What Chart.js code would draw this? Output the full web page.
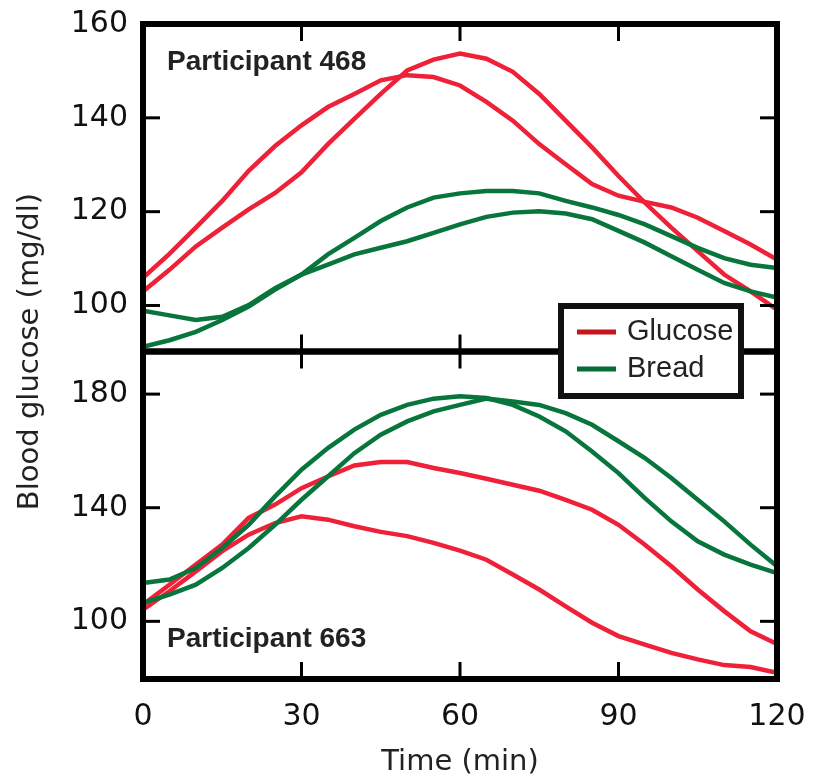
<!DOCTYPE html>
<html>
<head>
<meta charset="utf-8">
<script src="https://cdn.jsdelivr.net/npm/chart.js@4/dist/chart.umd.min.js"></script>
<style>
  html, body { margin: 0; padding: 0; background: #fff; }
  #wrap { width: 815px; height: 782px; position: relative; }
</style>
</head>
<body>
<div id="wrap"><canvas id="chart" width="815" height="782"></canvas></div>
<script>
// ── Data ───────────────────────────────────────────────────────────────────
const times = [0, 5, 10, 15, 20, 25, 30, 35, 40, 45, 50, 55, 60,
               65, 70, 75, 80, 85, 90, 95, 100, 105, 110, 115, 120];

// Participant 468
const p468Glucose1 = [103.0, 107.6, 112.6, 116.6, 120.5, 124.0, 128.4, 134.4, 139.8, 145.1, 150.1, 152.4, 153.7,
                      152.6, 149.8, 145.1, 139.4, 133.7, 127.6, 121.9, 116.6, 111.6, 106.6, 103.0, 99.1];
const p468Glucose2 = [105.9, 111.0, 116.6, 122.3, 128.7, 134.0, 138.4, 142.3, 145.1, 148.0, 149.1, 148.7, 146.9,
                      143.4, 139.4, 134.4, 130.1, 125.9, 123.4, 122.1, 120.9, 118.7, 115.9, 113.0, 109.8];
const p468Bread1   = [98.9, 97.9, 96.9, 97.6, 100.1, 103.7, 106.6, 108.7, 110.9, 112.3, 113.7, 115.5, 117.3,
                      118.9, 119.8, 120.1, 119.6, 118.4, 115.9, 113.4, 110.5, 107.6, 104.8, 103.0, 101.7];
const p468Bread2   = [91.2, 92.6, 94.4, 96.9, 99.8, 103.4, 106.6, 110.9, 114.4, 118.0, 120.9, 123.0, 123.9,
                      124.4, 124.4, 123.9, 122.3, 120.9, 119.3, 117.3, 114.8, 112.3, 110.1, 108.7, 108.0];

// Participant 663
const p663Glucose1 = [105.9, 112.9, 120.0, 127.0, 136.4, 141.1, 146.9, 151.0, 154.9, 156.1, 156.1, 154.0, 152.2,
                      150.2, 148.1, 146.0, 142.8, 139.3, 134.0, 127.0, 119.4, 111.2, 103.6, 96.5, 92.0];
const p663Glucose2 = [104.1, 110.6, 117.6, 124.7, 130.5, 134.6, 137.0, 135.8, 133.5, 131.5, 130.0, 127.6, 124.9,
                      121.7, 116.5, 111.2, 105.3, 99.5, 94.8, 91.8, 88.9, 86.6, 84.6, 83.9, 81.9];
const p663Bread1   = [113.5, 114.7, 118.8, 125.8, 134.0, 144.0, 153.4, 161.0, 167.5, 172.7, 176.2, 178.4, 179.2,
                      178.6, 176.2, 172.1, 166.9, 159.8, 152.2, 143.4, 135.2, 128.2, 123.5, 120.0, 117.0];
const p663Bread2   = [106.5, 109.4, 112.9, 118.8, 125.8, 134.0, 142.8, 151.0, 159.2, 165.7, 170.4, 173.9, 176.2,
                      178.4, 177.4, 176.2, 173.3, 169.2, 163.4, 157.5, 150.5, 142.8, 135.2, 127.0, 119.4];

const xTicks      = [0, 30, 60, 90, 120];
const topTicks    = [100, 120, 140, 160];
const bottomTicks = [100, 140, 180];
const panelLabels = ['Participant 468', 'Participant 663'];
const legendLabels = ['Glucose', 'Bread'];

// ── Styles ─────────────────────────────────────────────────────────────────
const RED   = '#ef2139';
const GREEN = '#08763c';
const LEGEND_RED   = '#c4161c';
const LEGEND_GREEN = '#066b35';
const TICK_FONT = { family: 'DejaVu Sans', size: 30 };

function series(values, color, axis) {
  return {
    data: times.map((t, i) => ({ x: t, y: values[i] })),
    borderColor: color,
    backgroundColor: color,
    borderWidth: 4.5,
    pointRadius: 0,
    tension: 0,
    yAxisID: axis,
  };
}

// Frame, inward ticks, panel labels, legend and axis titles
const decorPlugin = {
  id: 'decor',
  afterDatasetsDraw(chart) {
    const ctx = chart.ctx;
    const { left, right } = chart.chartArea;
    const xs = chart.scales.x;
    const TICK = 17;

    const line = (x1, y1, x2, y2) => {
      ctx.beginPath(); ctx.moveTo(x1, y1); ctx.lineTo(x2, y2); ctx.stroke();
    };

    ctx.save();
    ctx.lineCap = 'butt';

    ['yTop', 'yBot'].forEach((id, k) => {
      const s = chart.scales[id];
      ctx.strokeStyle = '#000';
      ctx.lineWidth = 3;
      s.ticks.forEach(t => {
        const py = s.getPixelForValue(t.value);
        line(left, py, left + TICK, py);
        line(right, py, right - TICK, py);
      });
      xs.ticks.forEach(t => {
        const px = xs.getPixelForValue(t.value);
        line(px, s.top, px, s.top + TICK);
        line(px, s.bottom, px, s.bottom - TICK);
      });
      ctx.lineWidth = 6;
      ctx.strokeRect(left, s.top, right - left, s.bottom - s.top);

      // panel label
      ctx.fillStyle = '#222';
      ctx.font = 'bold 28px "Liberation Sans", Arial, sans-serif';
      ctx.textAlign = 'left';
      ctx.textBaseline = 'middle';
      const ly = k === 0 ? s.top + 38 : s.bottom - 40;
      ctx.fillText(panelLabels[k], left + 24, ly);
    });

    // legend box
    const bx = 561, by = 306, bw = 180, bh = 90;
    ctx.fillStyle = '#fff';
    ctx.fillRect(bx, by, bw, bh);
    ctx.lineWidth = 6;
    ctx.strokeStyle = '#111';
    ctx.strokeRect(bx, by, bw, bh);
    [LEGEND_RED, LEGEND_GREEN].forEach((c, i) => {
      const yy = by + 26 + i * 37;
      ctx.strokeStyle = c;
      ctx.lineWidth = 5;
      line(bx + 16, yy, bx + 55, yy);
      ctx.fillStyle = '#222';
      ctx.font = '29px "Liberation Sans", Arial, sans-serif';
      ctx.textAlign = 'left';
      ctx.textBaseline = 'middle';
      ctx.fillText(legendLabels[i], bx + 66, yy);
    });

    // axis titles
    ctx.fillStyle = '#222';
    ctx.font = '29px "DejaVu Sans", sans-serif';
    ctx.textAlign = 'center';
    ctx.textBaseline = 'middle';
    ctx.fillText('Time (min)', (left + right) / 2, 762);

    ctx.save();
    ctx.translate(30, (chart.chartArea.top + chart.chartArea.bottom) / 2);
    ctx.rotate(-Math.PI / 2);
    ctx.fillText('Blood glucose (mg/dl)', 0, 0);
    ctx.restore();

    ctx.restore();
  }
};

// y axis shared settings; the label overflow padding is dropped so the
// plot frame lands where the layout padding puts it
function yAxis(min, max, ticks) {
  return {
    type: 'linear',
    position: 'left',
    stack: 'panels',
    stackWeight: 1,
    min, max,
    grid: { display: false, drawTicks: false },
    border: { display: false },
    ticks: { font: TICK_FONT, color: '#111', padding: 15 },
    afterBuildTicks: s => { s.ticks = ticks.map(v => ({ value: v })); },
    afterFit: s => { s.width = 143; s.paddingTop = 0; s.paddingBottom = 0; },
  };
}

new Chart(document.getElementById('chart'), {
  type: 'line',
  data: {
    datasets: [
      series(p468Bread1, GREEN, 'yTop'),
      series(p468Bread2, GREEN, 'yTop'),
      series(p468Glucose1, RED, 'yTop'),
      series(p468Glucose2, RED, 'yTop'),
      series(p663Bread1, GREEN, 'yBot'),
      series(p663Bread2, GREEN, 'yBot'),
      series(p663Glucose1, RED, 'yBot'),
      series(p663Glucose2, RED, 'yBot'),
    ]
  },
  options: {
    responsive: false,
    animation: false,
    layout: { padding: { top: 24, right: 38, left: 0, bottom: 0 } },
    plugins: { legend: { display: false }, tooltip: { enabled: false } },
    scales: {
      x: {
        type: 'linear',
        position: 'bottom',
        min: 0, max: 120,
        grid: { display: false, drawTicks: false },
        border: { display: false },
        ticks: { font: TICK_FONT, color: '#111', padding: 20, maxRotation: 0 },
        afterBuildTicks: s => { s.ticks = xTicks.map(v => ({ value: v })); },
        afterFit: s => { s.height = 103; s.paddingLeft = 0; s.paddingRight = 0; },
      },
      // stacked axes: the one defined later sits on top
      yBot: yAxis(79.7, 195, bottomTicks),
      yTop: yAxis(90.2, 160, topTicks),
    }
  },
  plugins: [decorPlugin]
});
</script>
</body>
</html>
